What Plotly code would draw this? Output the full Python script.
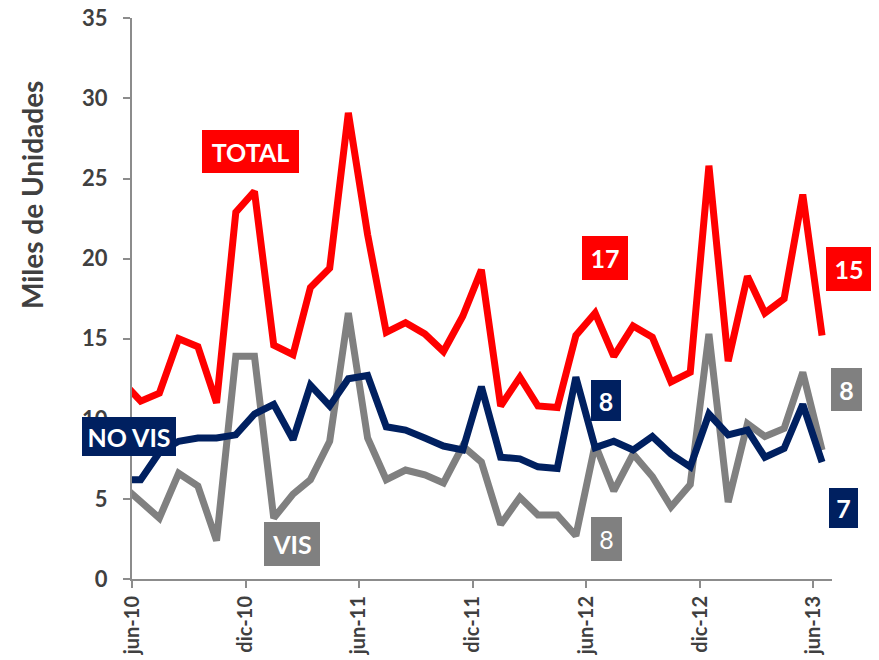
import plotly.graph_objects as go

# Months (data points plotted mid-month); may-10 lies just left of the axis start
months = [
    "2010-05", "2010-06", "2010-07", "2010-08", "2010-09", "2010-10", "2010-11", "2010-12",
    "2011-01", "2011-02", "2011-03", "2011-04", "2011-05", "2011-06", "2011-07", "2011-08",
    "2011-09", "2011-10", "2011-11", "2011-12", "2012-01", "2012-02", "2012-03", "2012-04",
    "2012-05", "2012-06", "2012-07", "2012-08", "2012-09", "2012-10", "2012-11", "2012-12",
    "2013-01", "2013-02", "2013-03", "2013-04", "2013-05", "2013-06",
]

total = [12.4, 11.1, 11.6, 15.0, 14.5, 11.0, 22.9, 24.2, 14.6, 14.0, 18.2, 19.4, 29.1,
         21.5, 15.4, 16.0, 15.3, 14.2, 16.4, 19.3, 10.8, 12.6, 10.8, 10.7, 15.2, 16.6,
         13.9, 15.8, 15.1, 12.3, 12.9, 25.8, 13.6, 18.9, 16.6, 17.5, 24.0, 15.2]
no_vis = [6.2, 6.2, 7.9, 8.6, 8.8, 8.8, 9.0, 10.3, 10.9, 8.7, 12.1, 10.8, 12.5,
          12.7, 9.5, 9.3, 8.8, 8.3, 8.05, 12.0, 7.6, 7.5, 7.0, 6.9, 12.6, 8.2,
          8.6, 8.05, 8.9, 7.8, 7.0, 10.3, 9.0, 9.3, 7.6, 8.15, 10.9, 7.3]
vis = [5.9, 4.8, 3.8, 6.6, 5.8, 2.4, 13.9, 13.9, 3.8, 5.3, 6.2, 8.6, 16.6,
       8.8, 6.2, 6.8, 6.5, 6.0, 8.3, 7.3, 3.4, 5.1, 4.0, 4.0, 2.7, 8.4,
       5.5, 7.8, 6.4, 4.5, 5.9, 15.3, 4.8, 9.7, 8.9, 9.4, 12.9, 8.05]

tick_dates = ["2010-06-01", "2010-12-01", "2011-06-01", "2011-12-01",
              "2012-06-01", "2012-12-01", "2013-06-01"]
tick_labels = ["jun-10", "dic-10", "jun-11", "dic-11", "jun-12", "dic-12", "jun-13"]
y_ticks = [0, 5, 10, 15, 20, 25, 30, 35]

RED = "#FF0000"
NAVY = "#002060"
GRAY = "#808080"
TXT = "#404040"
AX = "#8C8C8C"
FONT = "Lato"

x = [m + "-15" for m in months]

fig = go.Figure()
fig.add_trace(go.Scatter(x=x, y=vis, mode="lines", name="VIS",
                         line=dict(color=GRAY, width=7)))
fig.add_trace(go.Scatter(x=x, y=no_vis, mode="lines", name="NO VIS",
                         line=dict(color=NAVY, width=7)))
fig.add_trace(go.Scatter(x=x, y=total, mode="lines", name="TOTAL",
                         line=dict(color=RED, width=7)))

# plot area as seen on screen (page body adds an 8px offset)
OFF = 8
L, R, T, B = 131.7, 831.7, 18.3, 579.0


def px(v):
    return (v - L) / (R - L)


def py(v):
    return (B - v) / (B - T)


i12 = months.index("2012-06")
i13 = months.index("2013-06")

labels = [
    ("TOTAL", 250, 151.7, 97, 43, RED, "bold"),
    ("NO VIS", 129, 436.5, 94, 39, NAVY, "bold"),
    ("VIS", 292, 544, 56, 44, GRAY, "bold"),
    (str(round(total[i12])), 605, 258, 46, 44, RED, "bold"),
    (str(round(no_vis[i12])), 606, 401, 30, 41, NAVY, "bold"),
    (str(round(vis[i12])), 606.3, 539, 31, 44, GRAY, "normal"),
    (str(round(total[i13])), 849, 269, 46, 44, RED, "bold"),
    (str(round(vis[i13])), 846.3, 390, 31, 43, GRAY, "bold"),
    (str(round(no_vis[i13])), 843, 508.3, 29, 40, NAVY, "bold"),
]

annotations = []
for text, cx, cy, w, h, bg, wt in labels:
    annotations.append(dict(
        text=text, xref="paper", yref="paper", x=px(cx), y=py(cy),
        xanchor="center", yanchor="middle", showarrow=False,
        width=w, height=h, bgcolor=bg, borderpad=0, borderwidth=0,
        align="center", valign="middle",
        font=dict(family=FONT, size=25, color="white", weight=wt),
    ))

annotations.append(dict(
    text="Miles de Unidades", xref="paper", yref="paper",
    x=px(31), y=py(195), xanchor="center", yanchor="middle",
    showarrow=False, textangle=-90,
    font=dict(family=FONT, size=28, color=TXT, weight="bold"),
))

fig.update_layout(
    width=879, height=660,
    margin=dict(l=L - OFF, r=879 - (R - OFF), t=T - OFF, b=660 - (B - OFF), autoexpand=False),
    paper_bgcolor="white", plot_bgcolor="white",
    showlegend=False,
    annotations=annotations,
    xaxis=dict(
        type="date", range=["2010-06-01", "2013-07-01"],
        tickmode="array", tickvals=tick_dates, ticktext=tick_labels,
        tickangle=-90, ticks="outside", ticklen=7, tickwidth=2,
        tickcolor=AX, showline=True, linecolor=AX, linewidth=2,
        showgrid=False, zeroline=False, automargin=False,
        ticklabeloverflow="allow",
        tickfont=dict(family=FONT, size=20, color=TXT, weight="bold"),
    ),
    yaxis=dict(
        range=[0, 35.02], tickmode="array", tickvals=y_ticks,
        ticks="outside", ticklen=7, tickwidth=2, tickcolor=AX,
        showline=True, linecolor=AX, linewidth=2,
        showgrid=False, zeroline=False, automargin=False,
        ticklabelstandoff=11, ticklabeloverflow="allow",
        tickfont=dict(family=FONT, size=22, color=TXT, weight="bold"),
    ),
)

fig.write_html("out.html")
